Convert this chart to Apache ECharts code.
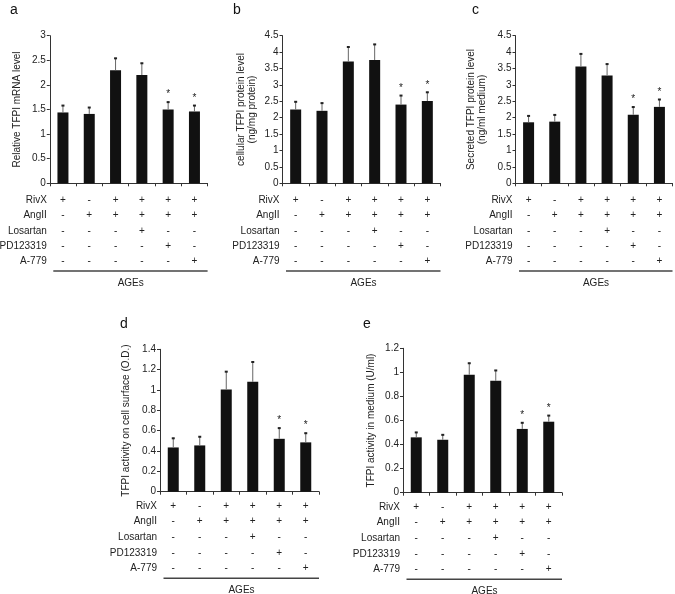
<!DOCTYPE html>
<html><head><meta charset="utf-8">
<script src="https://cdn.jsdelivr.net/npm/echarts@6/dist/echarts.min.js"></script>
<style>html,body{margin:0;padding:0;background:#fff}#c{width:675px;height:594px}</style>
</head><body><div id="c"></div>
<script>
// ---- data ----
const categories = ['1','2','3','4','5','6'];
const rowLabels = ['RivX','AngII','Losartan','PD123319','A-779'];
const rivx     = ['+','-','+','+','+','+'];
const angII    = ['-','+','+','+','+','+'];
const losartan = ['-','-','-','+','-','-'];
const pd123319 = ['-','-','-','-','+','-'];
const a779     = ['-','-','-','-','-','+'];
const groupLabel = 'AGEs';
const significant = [0,0,0,0,1,1];

const aMean = [1.44, 1.41, 2.30, 2.20, 1.50, 1.46];
const aSD   = [0.15, 0.14, 0.25, 0.25, 0.16, 0.13];
const bMean = [2.25, 2.21, 3.71, 3.76, 2.40, 2.51];
const bSD   = [0.25, 0.25, 0.46, 0.49, 0.29, 0.28];
const cMean = [1.86, 1.88, 3.56, 3.29, 2.09, 2.33];
const cSD   = [0.21, 0.22, 0.40, 0.36, 0.25, 0.24];
const dMean = [0.435, 0.455, 1.005, 1.08, 0.52, 0.485];
const dSD   = [0.095, 0.09, 0.18, 0.20, 0.11, 0.095];
const eMean = [0.46, 0.44, 0.98, 0.93, 0.53, 0.59];
const eSD   = [0.045, 0.045, 0.10, 0.09, 0.055, 0.055];

const yTitles = [
  'Relative TFPI mRNA level',
  'cellular TFPI protein level\n(ng/mg protein)',
  'Secreted TFPI protein level\n(ng/ml medium)',
  'TFPI activity on cell surface (O.D.)',
  'TFPI activity in medium (U/ml)'
];
const yMax = [3, 4.5, 4.5, 1.4, 1.2];
const yStep = [0.5, 0.5, 0.5, 0.2, 0.2];
const letters = ['a','b','c','d','e'];
const means = [aMean, bMean, cMean, dMean, eMean];
const sds = [aSD, bSD, cSD, dSD, eSD];

// ---- layout ----
const FONT = 'Liberation Sans, Arial, sans-serif';
const panels = [
  {left: 49.8, top: 35.7, width: 157.8, height: 147.6, gap: 27, lm: 9.5, lh: 15.25, letter:[10,3]},
  {left: 282.5, top: 35.7, width: 158, height: 147.6, gap: 25, lm: 9.5, lh: 15.25, letter:[233,3]},
  {left: 515.5, top: 35.7, width: 157, height: 147.6, gap: 28, lm: 9.5, lh: 15.25, letter:[472,3]},
  {left: 160, top: 349.3, width: 159, height: 142.4, gap: 28, lm: 6.5, lh: 15.6, letter:[120,317]},
  {left: 403, top: 348.3, width: 159, height: 144.4, gap: 26, lm: 6.5, lh: 15.6, letter:[363,317]}
];
const rows = [rivx, angII, losartan, pd123319, a779];

const grid=[], xAxis=[], yAxis=[], series=[], graphic=[];
panels.forEach((p,k)=>{
  grid.push({left:p.left, top:p.top, width:p.width, height:p.height});
  xAxis.push({type:'category', gridIndex:k, data:categories,
    axisLine:{lineStyle:{color:'#333', width:1}},
    axisTick:{show:true, length:3, inside:false, lineStyle:{color:'#333'}},
    axisLabel:{interval:0, margin:p.lm, fontFamily:FONT, fontSize:10, color:'#222', lineHeight:p.lh,
      formatter:(v,i)=>rows.map(r=>r[i]).join('\n')}
  });
  yAxis.push({type:'value', gridIndex:k, min:0, max:yMax[k], interval:yStep[k],
    splitLine:{show:false},
    axisLine:{show:true, lineStyle:{color:'#333', width:1}},
    axisTick:{show:true, length:3, lineStyle:{color:'#333'}},
    axisLabel:{fontFamily:FONT, fontSize:10, color:'#222', margin:4},
    name:yTitles[k], nameLocation:'middle', nameGap:p.gap, nameRotate:90,
    nameTextStyle:{fontFamily:FONT, fontSize:10, color:'#222', lineHeight:11}
  });
  series.push({type:'bar', xAxisIndex:k, yAxisIndex:k, data:means[k], barWidth:11,
    itemStyle:{color:'#111'}, silent:true, animation:false});
  const ed = means[k].map((m,i)=>[i, m, sds[k][i], significant[i]]);
  series.push({type:'custom', xAxisIndex:k, yAxisIndex:k, data:ed, animation:false, silent:true, z:5,
    renderItem:(params, api)=>{
      const x=api.value(0), m=api.value(1), s=api.value(2), sig=api.value(3);
      const p0=api.coord([x,m]), p1=api.coord([x,m+s]);
      const ch=[
        {type:'line', shape:{x1:p0[0], y1:p0[1], x2:p1[0], y2:p1[1]}, style:{stroke:'#666', lineWidth:1}},
        {type:'rect', shape:{x:p1[0]-1.5, y:p1[1]-0.5, width:3, height:2}, style:{fill:'#222'}}
      ];
      if(sig) ch.push({type:'text', style:{text:'*', x:p1[0], y:p1[1]-2, textAlign:'center', textVerticalAlign:'bottom',
        fontFamily:FONT, fontSize:10, fill:'#222'}});
      return {type:'group', children:ch};
    }});
  // row labels
  const axisY = p.top + p.height;
  rowLabels.forEach((t,r)=>{
    graphic.push({type:'text', left:null, x:p.left-3, y:axisY + p.lm + p.lh*(r+0.5),
      style:{text:t, textAlign:'right', textVerticalAlign:'middle', fontFamily:FONT, fontSize:10, fill:'#222'}});
  });
  const lineY = axisY + p.lm + p.lh*5 + 2;
  graphic.push({type:'line', shape:{x1:p.left+3.5, y1:lineY, x2:p.left+p.width, y2:lineY},
    style:{stroke:'#444', lineWidth:1.5}});
  graphic.push({type:'text', x:p.left+p.width/2+2, y:lineY+12,
    style:{text:groupLabel, textAlign:'center', textVerticalAlign:'middle', fontFamily:FONT, fontSize:10, fill:'#222'}});
  graphic.push({type:'text', x:p.letter[0], y:p.letter[1],
    style:{text:letters[k], fontFamily:FONT, fontSize:14, fill:'#111'}});
});

const chart = echarts.init(document.getElementById('c'), null, {renderer:'canvas'});
chart.setOption({animation:false, grid, xAxis, yAxis, series, graphic});
</script></body></html>
